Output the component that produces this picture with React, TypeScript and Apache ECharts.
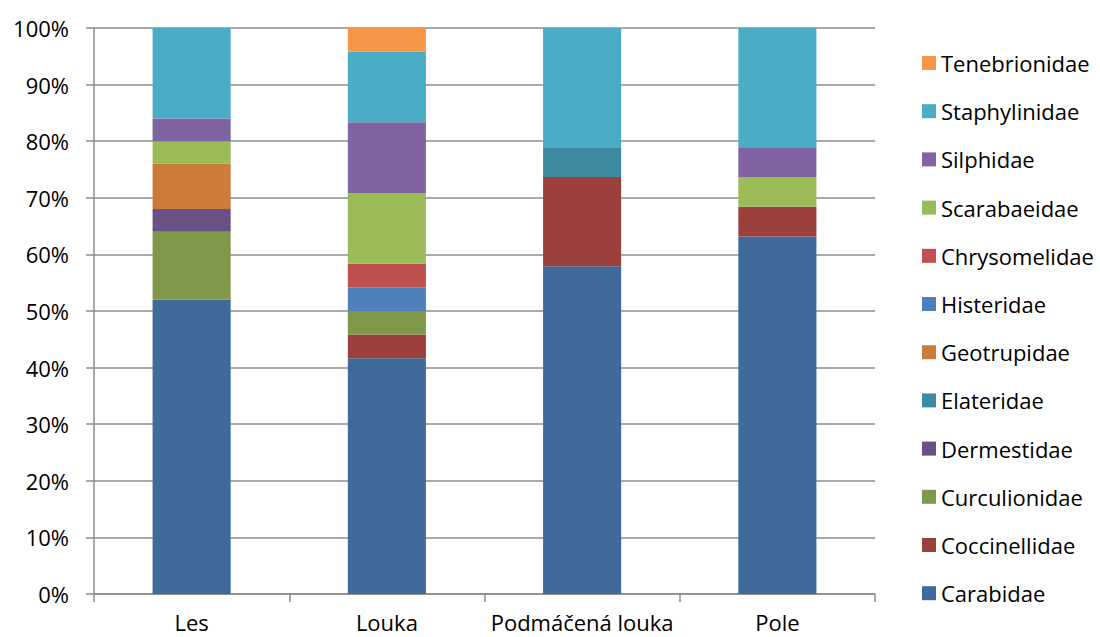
import React, { useEffect, useRef } from "react";
import * as echarts from "echarts";

// Habitats (x categories)
const habitats = ["Les", "Louka", "Podmáčená louka", "Pole"];

// Beetle families in stacking order (bottom to top)
const families = [
  "Carabidae",
  "Coccinellidae",
  "Curculionidae",
  "Dermestidae",
  "Elateridae",
  "Geotrupidae",
  "Histeridae",
  "Chrysomelidae",
  "Scarabaeidae",
  "Silphidae",
  "Staphylinidae",
  "Tenebrionidae",
];

// Share of each family per habitat, in % (Les, Louka, Podmáčená louka, Pole)
const carabidae = [52, 41.66, 57.89, 63.16];
const coccinellidae = [0, 4.17, 15.79, 5.26];
const curculionidae = [12, 4.17, 0, 0];
const dermestidae = [4, 0, 0, 0];
const elateridae = [0, 0, 5.26, 0];
const geotrupidae = [8, 0, 0, 0];
const histeridae = [0, 4.17, 0, 0];
const chrysomelidae = [0, 4.17, 0, 0];
const scarabaeidae = [4, 12.5, 0, 5.26];
const silphidae = [4, 12.5, 0, 5.26];
const staphylinidae = [16, 12.5, 21.06, 21.06];
const tenebrionidae = [0, 4.16, 0, 0];

const familyValues = [
  carabidae,
  coccinellidae,
  curculionidae,
  dermestidae,
  elateridae,
  geotrupidae,
  histeridae,
  chrysomelidae,
  scarabaeidae,
  silphidae,
  staphylinidae,
  tenebrionidae,
];

const familyColors = [
  "#3f6a9a",
  "#9c403e",
  "#7f994a",
  "#6a5085",
  "#3c8ba0",
  "#cc7b38",
  "#4f80bb",
  "#c0504d",
  "#9bbb59",
  "#8064a2",
  "#4bacc6",
  "#f79646",
];

// Y-axis ticks in %
const yMin = 0;
const yMax = 100;
const yStep = 10;

const FONT = "'Open Sans', sans-serif";

export default function App() {
  const ref = useRef<HTMLDivElement>(null);

  useEffect(() => {
    if (!ref.current) return;
    const chart = echarts.init(ref.current, null, { renderer: "svg" });

    const series = families.map((name, i) => ({
      name,
      type: "bar" as const,
      stack: "total",
      barWidth: "40%",
      data: familyValues[i],
      itemStyle: { color: familyColors[i] },
    }));

    chart.setOption({
      animation: false,
      textStyle: { fontFamily: FONT },
      grid: { left: 94, right: 225, top: 28, bottom: 43 },
      legend: {
        orient: "vertical",
        left: 917,
        top: 47,
        icon: "rect",
        itemWidth: 14,
        itemHeight: 14,
        itemGap: 26.2,
        data: [...families].reverse(),
        textStyle: {
          fontFamily: FONT,
          fontSize: 22,
          lineHeight: 22,
          color: "#000",
        },
      },
      xAxis: {
        type: "category",
        data: habitats,
        axisLine: { show: true, lineStyle: { color: "#8c8c8c", width: 1.5 } },
        axisTick: {
          show: true,
          length: 8,
          interval: 0,
          alignWithLabel: false,
          lineStyle: { color: "#8c8c8c", width: 1.5 },
        },
        axisLabel: {
          interval: 0,
          fontFamily: FONT,
          fontSize: 22,
          lineHeight: 20,
          color: "#000",
          margin: 18,
        },
      },
      yAxis: {
        type: "value",
        min: yMin,
        max: yMax,
        interval: yStep,
        axisLine: { show: true, lineStyle: { color: "#8c8c8c", width: 1.5 } },
        axisTick: {
          show: true,
          length: 8,
          lineStyle: { color: "#8c8c8c", width: 1.5 },
        },
        splitLine: { show: true, lineStyle: { color: "#8c8c8c", width: 1.5 } },
        axisLabel: {
          fontFamily: FONT,
          fontSize: 22,
          color: "#000",
          margin: 25,
          formatter: "{value}%",
        },
      },
      series,
    });

    return () => chart.dispose();
  }, []);

  return (
    <div
      ref={ref}
      style={{ width: 1100, height: 637, position: "absolute", left: 0, top: 0 }}
    />
  );
}
